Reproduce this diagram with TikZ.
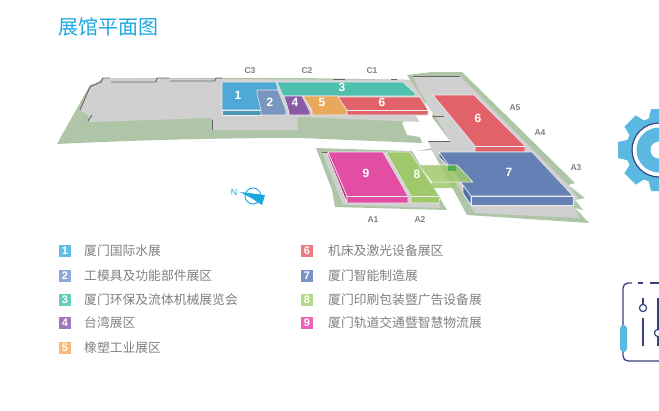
\documentclass[tikz,border=0pt]{standalone}
\usepackage{fontspec}
\setmainfont{Liberation Sans}
\newfontfamily\cjk{Noto Sans CJK SC}
\usetikzlibrary{positioning}
\definecolor{lawn}{HTML}{AFC5A8}
\definecolor{floorgray}{HTML}{D0D0D0}
\definecolor{wallgray}{HTML}{666666}
\definecolor{skyblue}{HTML}{1AA7E0}
\definecolor{hallA}{HTML}{4FA9D6}
\definecolor{hallAf}{HTML}{4A97B8}
\definecolor{hallB}{HTML}{7896BF}
\definecolor{hallC}{HTML}{4FBFAE}
\definecolor{hallD}{HTML}{8B5AA6}
\definecolor{hallE}{HTML}{E9A85C}
\definecolor{hallF}{HTML}{E2626A}
\definecolor{hallG}{HTML}{6580B5}
\definecolor{hallGs}{HTML}{4F6FA8}
\definecolor{hallH}{HTML}{9FC96A}
\definecolor{hallI}{HTML}{E24EA3}
\definecolor{hallIs}{HTML}{C23D8C}
\definecolor{keyA}{HTML}{62BDE8}
\definecolor{keyB}{HTML}{8FA9D6}
\definecolor{keyC}{HTML}{62CFBD}
\definecolor{keyD}{HTML}{A076BD}
\definecolor{keyE}{HTML}{F5BC78}
\definecolor{keyF}{HTML}{EE7C80}
\definecolor{keyG}{HTML}{7C93C8}
\definecolor{keyH}{HTML}{B5DA8A}
\definecolor{keyI}{HTML}{EE62BA}
\definecolor{iconblue}{HTML}{5BB8E0}
\definecolor{icondark}{HTML}{3A3F7F}
\tikzset{
    face/.style={draw=white!85!gray, line width=0.6pt, line join=round},
    wall/.style={draw=wallgray, line width=0.9pt},
    gatelabel/.style={font=\bfseries\fontsize{8.5}{8.5}\selectfont, text=black!50, inner sep=0pt},
    hallnum/.style={font=\bfseries\fontsize{12}{12}\selectfont, text=white, inner sep=0pt},
    keybox/.style={minimum size=12pt, inner sep=0pt, text=white, font=\bfseries\fontsize{11}{11}\selectfont},
    keytext/.style={font=\cjk\fontsize{12.8}{13}\selectfont, text=black!50, inner sep=0pt, anchor=west}
}
\begin{document}
\begin{tikzpicture}[x=1pt, y=-1pt]
    \useasboundingbox (0,0) rectangle (659,410);

    % title
    \node [font=\cjk\fontsize{20}{20}\selectfont, text=skyblue, inner sep=0pt, anchor=west] (title) at (58,27) {展馆平面图};

    % west wing
    \fill [lawn] (57,144) -- (90,85) -- (110,78) -- (222,78) -- (300,78) -- (420,80) -- (427,112) -- (415,115)
        -- (402,123) -- (407,135) -- (420,137) -- (422,143) -- (300,138) .. controls (200,138) and (120,141) .. (57,144) -- cycle;
    \fill [floorgray] (80,110) -- (90,87) -- (103,78) -- (110,78) -- (222,79) -- (415,80) -- (427,112) -- (415,115)
        -- (420,122) -- (300,117) -- (297,118) -- (298,130) -- (212,130) -- (212,118) -- (90,122) -- (88,115) -- cycle;
    \draw [wall] (80,110) -- (90,87) -- (101,82) -- (103,78) -- (110,78);
    \draw [wall] (111,82) -- (156,82) -- (157,78) -- (169,78);
    \draw [wall] (170,81) -- (215,81) -- (216,78) -- (222,78);
    \draw [wall] (88,121) -- (92,115);
    \draw [wall] (212,120) -- (212,130);
    \draw [wall] (333,79) -- (345,79);
    \draw [wall] (391,79) -- (397,79);

    % east wing
    \fill [lawn] (407,75) -- (432,72) -- (462,72) -- (575,183) -- (568,185) -- (585,198) -- (575,200) -- (583,210)
        -- (575,208) -- (589,223) -- (467,215) -- (440,165) -- (432,150) -- (417,151) -- (433,148) -- (428,141)
        -- (450,141) -- (432,117) -- (433,113) -- (415,87) -- cycle;
    \fill [floorgray] (413,76) -- (460,76) -- (570,187) -- (578,198) -- (573,205) -- (580,218) -- (475,213)
        -- (445,165) -- (433,152) -- (428,141) -- (450,141) -- (433,113) -- (418,88) -- cycle;
    \draw [wall] (413,76) -- (460,76);
    \draw [wall] (428,141) -- (450,141);
    \draw [wall] (433,116) -- (444,116);

    % south block
    \fill [lawn] (316,148) -- (412,151) -- (447,210) -- (335,207) -- (332,190) -- cycle;
    \fill [floorgray] (322,152) -- (410,152) -- (440,205) -- (440,208) -- (343,205) -- cycle;
    \draw [wall] (322,152) -- (328,152);

    % halls north row
    \filldraw [face, fill=hallA] (222,82) -- (276,82) -- (281,100) -- (262,110) -- (222,110) -- cycle;
    \filldraw [face, fill=hallAf] (222,110) -- (261,110) -- (261,115) -- (222,115) -- cycle;
    \filldraw [face, fill=hallB] (257,90) -- (278,90) -- (286,110) -- (286,115) -- (261,115) -- (261,110) -- (257,94) -- cycle;
    \filldraw [face, fill=hallC] (277,82) -- (403,82) -- (415,93) -- (415,96) -- (283,96) -- cycle;
    \filldraw [face, fill=hallD] (284,96) -- (302,96) -- (310,112) -- (310,115) -- (289,115) -- (289,112) -- cycle;
    \filldraw [face, fill=hallE] (303,96) -- (338,96) -- (347,110) -- (347,115) -- (312,115) -- (312,110) -- cycle;
    \filldraw [face, fill=hallF] (338,97) -- (420,97) -- (428,110) -- (428,115) -- (347,115) -- (347,110) -- cycle;
    \draw [face] (347,110) -- (428,110);

    % halls east
    \filldraw [face, fill=hallF] (433,95) -- (474,95) -- (525,146) -- (525,152) -- (475,152) -- (475,146) -- cycle;
    \draw [face] (475,146) -- (525,146);
    \filldraw [face, fill=hallGs] (439,152) -- (439,157) -- (448,166) -- (463,183) -- (463,193) -- (471,205) -- (471,196) -- cycle;
    \filldraw [face, fill=hallG] (439,152) -- (532,152) -- (573,196) -- (471,196) -- (447,163) -- cycle;
    \filldraw [face, fill=hallG] (471,196) -- (573,196) -- (573,205) -- (471,205) -- cycle;

    % halls south
    \filldraw [face, fill=hallIs] (328,152) -- (347,196) -- (347,203) -- (328,156) -- cycle;
    \filldraw [face, fill=hallI] (328,152) -- (383,152) -- (408,196) -- (408,203) -- (347,203) -- (347,196) -- cycle;
    \draw [face] (347,196) -- (408,196);
    \filldraw [face, fill=hallH] (386,152) -- (410,152) -- (440,197) -- (439,203) -- (411,203) -- (411,196) -- cycle;
    \draw [face] (411,196) -- (439,196);

    % bridge
    \fill [hallH, opacity=0.85] (420,165) -- (457,165) -- (473,182) -- (432,182) -- cycle;
    \fill [hallH, opacity=0.85] (432,182) -- (431,188) -- (455,188) -- (457,182) -- cycle;
    \fill [green!35!gray] (448,165) -- (456,165) -- (456,171) -- (448,171) -- cycle;
    \draw [face] (420,165) -- (457,165) -- (473,182) -- (432,182);

    % hall numbers
    \node [hallnum] (num1) at (238,95) {1};
    \node [hallnum] (num2) at (270,102) {2};
    \node [hallnum] (num3) at (342,87) {3};
    \node [hallnum] (num4) at (295,102) {4};
    \node [hallnum] (num5) at (322,102) {5};
    \node [hallnum] (num6) at (382,102) {6};
    \node [hallnum] (numE) at (478,118) {6};
    \node [hallnum] (num7) at (509,172) {7};
    \node [hallnum] (num8) at (417,174) {8};
    \node [hallnum] (num9) at (366,173) {9};

    % gates
    \node [gatelabel] (C3) at (250,71) {C3};
    \node [gatelabel] (C2) at (307,71) {C2};
    \node [gatelabel] (C1) at (372,71) {C1};
    \node [gatelabel] (A5) at (515,108) {A5};
    \node [gatelabel] (A4) at (540,133) {A4};
    \node [gatelabel] (A3) at (576,168) {A3};
    \node [gatelabel] (A1) at (373,220) {A1};
    \node [gatelabel] (A2) at (420,220) {A2};

    % north mark
    \node [font=\fontsize{9}{9}\selectfont, text=skyblue, inner sep=0pt] (north) at (234,192) {N};
    \draw [skyblue, line width=0.9pt] (253,196) circle (8);
    \fill [skyblue] (240,192) -- (265,195) -- (262,205) -- (253,199) -- cycle;

    % legend
    \foreach \n/\col/\y/\txt in {1/keyA/251/厦门国际水展, 2/keyB/276/工模具及功能部件展区, 3/keyC/300/厦门环保及流体机械展览会, 4/keyD/323/台湾展区, 5/keyE/348/橡塑工业展区}
        \node [keybox, fill=\col] (key\n) at (65,\y) {\n}
            node [keytext] (txt\n) at (84,\y) {\txt};
    \foreach \n/\col/\y/\txt in {6/keyF/251/机床及激光设备展区, 7/keyG/276/厦门智能制造展, 8/keyH/300/厦门印刷包装暨广告设备展, 9/keyI/323/厦门轨道交通暨智慧物流展}
        \node [keybox, fill=\col] (key\n) at (307,\y) {\n}
            node [keytext] (txt\n) at (328,\y) {\txt};

    % gear
    \fill [iconblue] (659,150) circle (33);
    \foreach \a in {90,135,...,270}
        \fill [iconblue, rotate around={\a:(659,150)}] (687,139) -- (700,142) -- (700,158) -- (687,161) -- cycle;
    \fill [white] (659,150) circle (26.5);
    \draw [icondark, line width=1.1pt] (659,123) arc (270:90:27);
    \fill [iconblue] (659,150) circle (22.5);
    \fill [white] (659,150) circle (8.5);

    % panel
    \draw [icondark, line width=1.3pt] (650,283) -- (659,283);
    \draw [icondark, line width=1.3pt] (638,283) -- (643,283);
    \draw [icondark, line width=1.3pt] (632,283) -- (628,283) arc (270:180:5) -- (623,356) arc (180:90:5) -- (665,361);
    \fill [iconblue, rounded corners=3.4pt] (620,325) rectangle (627,352);
    \draw [icondark, line width=1.2pt] (643,298) -- (643,304) (643,318) -- (643,346);
    \draw [icondark, line width=1.2pt] (643,308) circle (3.6);
    \draw [icondark, line width=1.2pt] (658,298) -- (658,329) (658,337) -- (658,346);
    \draw [icondark, line width=1.2pt] (658,333) circle (3.6);
\end{tikzpicture}
\end{document}
